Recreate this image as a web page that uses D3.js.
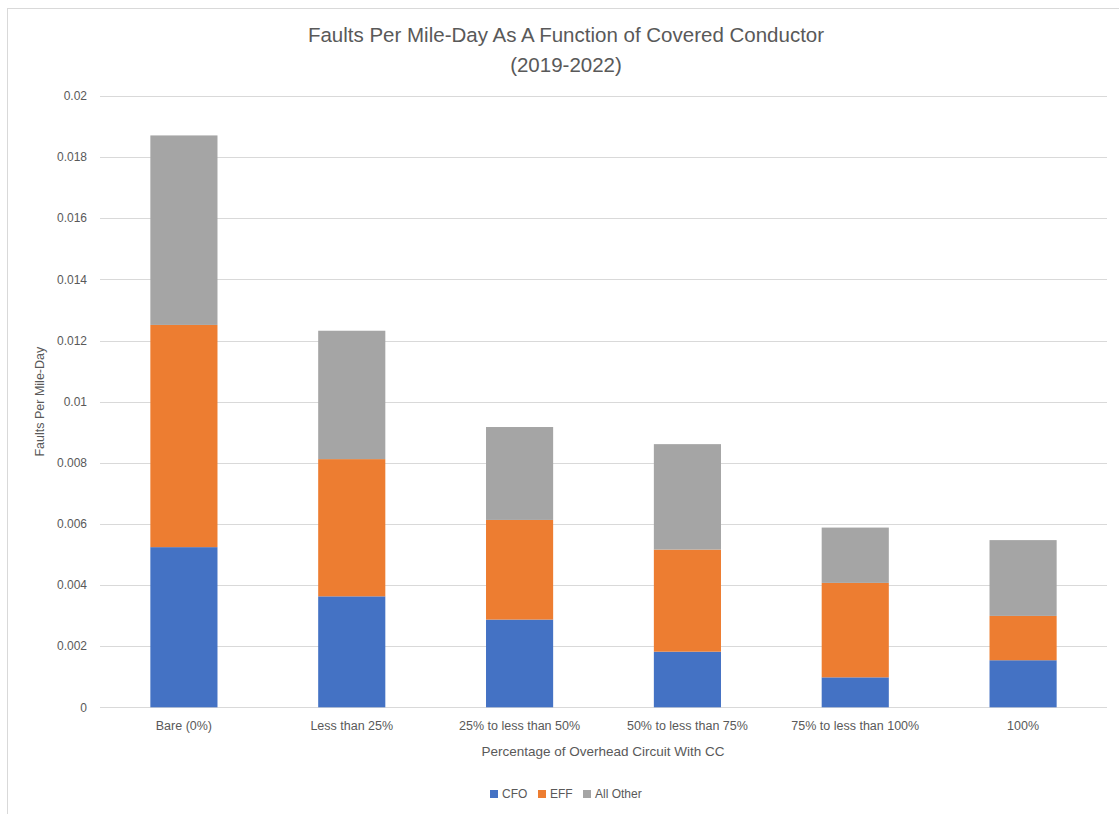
<!DOCTYPE html>
<html>
<head>
<meta charset="utf-8">
<script src="https://cdn.jsdelivr.net/npm/d3@7"></script>
<style>
  html, body { margin: 0; padding: 0; background: #fff; }
  #chart { width: 1119px; height: 814px; }
  text { font-family: "Liberation Sans", Arial, sans-serif; fill: #595959; }
</style>
</head>
<body>
<div id="chart"></div>
<script>
const categories = ["Bare (0%)", "Less than 25%", "25% to less than 50%", "50% to less than 75%", "75% to less than 100%", "100%"];
const seriesNames = ["CFO", "EFF", "All Other"];
const cfo = [0.00524, 0.00363, 0.00287, 0.00182, 0.00098, 0.00154];
const eff = [0.00727, 0.00449, 0.00326, 0.00334, 0.00309, 0.00145];
const allOther = [0.0062, 0.0042, 0.00304, 0.00345, 0.00181, 0.00248];
const yTicks = [0, 0.002, 0.004, 0.006, 0.008, 0.01, 0.012, 0.014, 0.016, 0.018, 0.02];
const colors = ["#4472C4", "#ED7D31", "#A5A5A5"];

function renderChart() {
  const width = 1119, height = 814;
  const margin = { top: 96, right: 12, bottom: 107, left: 100 };
  const innerW = 1107 - margin.left;
  const innerH = 707.3 - margin.top;

  const svg = d3.select("#chart").append("svg").attr("width", width).attr("height", height);

  svg.append("rect")
    .attr("x", 7.5).attr("y", 8.5)
    .attr("width", width).attr("height", height)
    .attr("fill", "#fff").attr("stroke", "#d9d9d9").attr("stroke-width", 1);

  const rows = categories.map((c, i) => ({ category: c, CFO: cfo[i], EFF: eff[i], "All Other": allOther[i] }));
  const stacked = d3.stack().keys(seriesNames)(rows);

  const x = d3.scaleBand().domain(categories).range([0, innerW]).paddingInner(0.6).paddingOuter(0.3);
  const y = d3.scaleLinear().domain([0, 0.02]).range([innerH, 0]);

  const g = svg.append("g").attr("transform", `translate(${margin.left},${margin.top})`);

  // gridlines
  g.append("g").selectAll("line").data(yTicks).enter().append("line")
    .attr("x1", 0).attr("x2", innerW)
    .attr("y1", d => Math.round(y(d)) + 0.5).attr("y2", d => Math.round(y(d)) + 0.5)
    .attr("stroke", "#d9d9d9").attr("stroke-width", 1);

  // y tick labels
  g.append("g").selectAll("text").data(yTicks).enter().append("text")
    .attr("x", -13).attr("y", d => y(d))
    .attr("dy", "0.35em")
    .attr("text-anchor", "end")
    .attr("font-size", 12)
    .text(d => d === 0 ? "0" : d3.format("")(+d.toFixed(3)));

  // bars
  g.append("g").selectAll("g").data(stacked).enter().append("g")
    .attr("fill", (d, i) => colors[i])
    .selectAll("rect").data(d => d).enter().append("rect")
    .attr("x", d => x(d.data.category))
    .attr("width", x.bandwidth())
    .attr("y", d => y(d[1]))
    .attr("height", d => y(d[0]) - y(d[1]));

  // x tick labels
  g.append("g").selectAll("text").data(categories).enter().append("text")
    .attr("x", d => x(d) + x.bandwidth() / 2)
    .attr("y", innerH + 23)
    .attr("text-anchor", "middle")
    .attr("font-size", 12.5)
    .text(d => d);

  // titles
  svg.append("text").attr("x", 566).attr("y", 42).attr("text-anchor", "middle")
    .attr("font-size", 20.5).text("Faults Per Mile-Day As A Function of Covered Conductor");
  svg.append("text").attr("x", 566).attr("y", 72).attr("text-anchor", "middle")
    .attr("font-size", 20.5).text("(2019-2022)");

  svg.append("text")
    .attr("transform", `translate(44,${margin.top + innerH / 2}) rotate(-90)`)
    .attr("text-anchor", "middle").attr("font-size", 12.5)
    .text("Faults Per Mile-Day");

  svg.append("text").attr("x", 603).attr("y", 756).attr("text-anchor", "middle")
    .attr("font-size", 13.5).text("Percentage of Overhead Circuit With CC");

  // legend
  const legendX = [490, 538, 583];
  const legend = svg.append("g").selectAll("g").data(seriesNames).enter().append("g")
    .attr("transform", (d, i) => `translate(${legendX[i]},790)`);
  legend.append("rect").attr("width", 8).attr("height", 8).attr("fill", (d, i) => colors[i]);
  legend.append("text").attr("x", 12).attr("y", 4).attr("dy", "0.35em")
    .attr("font-size", 12).text(d => d);
}

renderChart();
</script>
</body>
</html>
